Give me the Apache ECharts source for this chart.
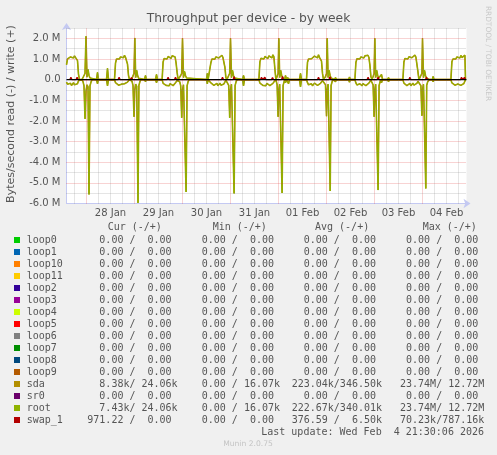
<!DOCTYPE html>
<html><head><meta charset="utf-8">
<script src="https://cdn.jsdelivr.net/npm/echarts@6/dist/echarts.min.js"></script>
<style>html,body{margin:0;padding:0;background:#f0f0f0;}#c{width:497px;height:455px;}</style>
</head><body><div id="c"></div>
<script>
// x values: hours relative to 2026-01-28 00:00 ; y values in millions of bytes/second
const titleText = 'Throughput per device - by week';
const yAxisName = 'Bytes/second read (-) / write (+)';
const dayLabelHours = [12, 36, 60, 84, 108, 132, 156, 180];
const dayLabels = ['28 Jan', '29 Jan', '30 Jan', '31 Jan', '01 Feb', '02 Feb', '03 Feb', '04 Feb'];

const rootWrite = [
  [-10,0.72],[-9.5,1.0],[-9,1.06],[-8.5,0.98],[-8,1.1],[-7.5,1.03],[-7,1.12],[-6.5,1.05],[-6,1.15],[-5.5,1.07],[-5,1.17],[-4.5,0.92],[-4,0.25],[-3.5,0],
  [-2.25,0],[-1.75,0.05],[-1.25,0.2],[-0.75,0.3],[-0.25,2.1],[0.25,0.12],[0.75,0.5],[1.25,0.2],[1.75,0.08],[2.25,0.15],[2.75,0],
  [5,0],[5.5,0.35],[6,0],[10,0],[10.5,0.55],[11,0],
  [14,0],[14.5,0.8],[15,1.0],[15.5,0.96],[16,1.05],[16.5,1.0],[17,1.1],[17.5,1.04],[18,1.13],[18.5,1.06],[19,1.18],[19.5,1.08],[20,1.15],[20.5,0.75],[21,0.2],[21.5,0],
  [22.25,0],[22.75,0.05],[23.25,0.18],[23.75,0.3],[24.15,2.02],[24.6,0.1],[25.1,0.45],[25.6,0.18],[26.1,0.06],[26.6,0.12],[27.1,0],
  [29,0],[29.5,0.2],[30,0],[34.5,0],[35,0.25],[35.5,0],
  [37.8,0],[38.3,0.85],[38.8,1.02],[39.3,0.97],[39.8,1.08],[40.3,1.0],[40.8,1.12],[41.3,1.05],[41.8,1.1],[42.3,1.03],[42.8,1.16],[43.3,1.07],[43.8,1.22],[44.3,1.1],[44.8,0.8],[45.3,0.35],[45.8,0],
  [46.1,0],[46.6,0.06],[47.1,0.2],[47.6,0.3],[48,2.0],[48.5,0.1],[49,0.4],[49.5,0.2],[50,0.08],[50.5,0.1],[51,0],
  [60,0],[60.4,0.3],[60.8,0],
  [61.7,0],[62.2,0.82],[62.7,1.0],[63.2,0.95],[63.7,1.06],[64.2,0.99],[64.7,1.1],[65.2,1.02],[65.7,1.14],[66.2,1.05],[66.7,1.12],[67.2,1.04],[67.7,1.18],[68.2,1.08],[68.7,1.12],[69.2,0.6],[69.7,0.1],[70.2,0],
  [70.6,0.05],[71.1,0.2],[71.6,0.3],[72,2.0],[72.5,0.1],[73,0.45],[73.5,0.2],[74,0.08],[74.5,0.12],[75,0],
  [78,0],[78.5,0.2],[79,0],
  [86.2,0],[86.7,0.86],[87.2,1.03],[87.7,0.96],[88.2,1.07],[88.7,1.0],[89.2,1.12],[89.7,1.04],[90.2,1.1],[90.7,1.02],[91.2,1.15],[91.7,1.06],[92.2,1.12],[92.7,1.05],[93.2,1.2],[93.7,1.1],[94.2,0.5],[94.7,0],
  [95.3,0.15],[95.8,0.3],[96.15,2.0],[96.6,0.1],[97.1,0.45],[97.6,0.2],[98.1,0.1],[98.6,0.15],[99.1,0],[99.5,0.2],[100,0],[100.5,0.1],[101,0.15],[101.5,0],
  [106.5,0],[107,0.3],[107.5,0],
  [110,0],[110.5,0.84],[111,1.0],[111.5,0.97],[112,1.08],[112.5,1.01],[113,1.1],[113.5,1.03],[114,1.14],[114.5,1.06],[115,1.12],[115.5,1.05],[116,1.2],[116.5,1.08],[117,1.13],[117.5,0.9],[118,0.3],[118.5,0],
  [119,0],[119.5,0.15],[120,0.3],[120.35,2.0],[120.8,0.1],[121.3,0.45],[121.8,0.2],[122.3,0.08],[122.8,0.12],[123.3,0],[124,0],[124.5,0.1],[125,0],[131,0],[131.5,0.12],[132,0],
  [134.2,0],[134.7,0.83],[135.2,1.01],[135.7,0.96],[136.2,1.06],[136.7,1.0],[137.2,1.1],[137.7,1.03],[138.2,1.13],[138.7,1.05],[139.2,1.15],[139.7,1.07],[140.2,1.12],[140.7,1.18],[141.2,1.08],[141.7,0.7],[142.2,0.15],[142.7,0],
  [143.3,0.15],[143.8,0.3],[144.15,2.0],[144.6,0.1],[145.1,0.45],[145.6,0.2],[146.1,0.08],[146.6,0.12],[147.1,0],[147.5,0.25],[148,0],[150.5,0],[151,0.1],[151.5,0],
  [158.2,0],[158.7,0.85],[159.2,1.02],[159.7,0.97],[160.2,1.07],[160.7,1.0],[161.2,1.11],[161.7,1.04],[162.2,1.14],[162.7,1.06],[163.2,1.12],[163.7,1.05],[164.2,1.19],[164.7,1.09],[165.2,1.0],[165.7,0.4],[166.2,0],
  [166.7,0.1],[167.2,0.2],[167.7,0.3],[168,2.0],[168.5,0.1],[169,0.45],[169.5,0.2],[170,0.08],[170.5,0.12],[171,0.15],[171.5,0],[173,0],[173.3,0.15],[173.8,0],
  [182.2,0],[182.7,0.86],[183.2,1.0],[183.7,0.96],[184.2,1.06],[184.7,1.0],[185.2,1.1],[185.7,1.02],[186.2,1.13],[186.7,1.05],[187.2,1.17],[187.7,1.07],[188.2,1.12],[188.7,1.08],[189.2,1.18],[189.5,0]
];

const rootRead = [
  [-10,-0.12],[-9.5,-0.22],[-9,-0.17],[-8.5,-0.26],[-8,-0.18],[-7.5,-0.28],[-7,-0.2],[-6.5,-0.15],[-6,-0.25],[-5.5,-0.18],[-5,-0.27],[-4.5,-0.2],[-4,-0.06],[-3.5,0],
  [-2.25,0],[-1.75,-0.1],[-1.25,-0.3],[-0.75,-1.9],[-0.25,-0.55],[0.25,-0.25],[0.75,-0.35],[1.25,-5.56],[1.75,-0.3],[2.25,-0.12],[2.75,0],
  [5,0],[5.5,-0.2],[6,0],[10,0],[10.5,-0.3],[11,0],
  [14,0],[14.5,-0.15],[15,-0.24],[15.5,-0.18],[16,-0.27],[16.5,-0.2],[17,-0.3],[17.5,-0.22],[18,-0.17],[18.5,-0.26],[19,-0.2],[19.5,-0.28],[20,-0.22],[20.5,-0.12],[21,-0.04],[21.5,0],
  [22.25,0],[22.75,-0.08],[23.25,-0.28],[23.75,-1.8],[24.15,-0.5],[24.6,-0.22],[25.1,-0.32],[25.75,-5.97],[26.2,-0.28],[26.7,-0.1],[27.2,0],
  [29,0],[29.5,-0.1],[30,0],[34.5,0],[35,-0.15],[35.5,0],
  [37.8,0],[38.3,-0.18],[38.8,-0.25],[39.3,-0.17],[39.8,-0.28],[40.3,-0.2],[40.8,-0.24],[41.3,-0.3],[41.8,-0.19],[42.3,-0.26],[42.8,-0.2],[43.3,-0.29],[43.8,-0.22],[44.3,-0.18],[44.8,-0.1],[45.3,-0.04],[45.8,0],
  [46.1,0],[46.6,-0.1],[47.1,-0.3],[47.6,-1.85],[48,-0.5],[48.5,-0.25],[49,-0.3],[49.8,-5.44],[50.3,-0.3],[50.8,-0.1],[51.3,0],
  [60,0],[60.4,-0.2],[60.8,0],
  [61.7,0],[62.2,-0.16],[62.7,-0.25],[63.2,-0.19],[63.7,-0.28],[64.2,-0.21],[64.7,-0.26],[65.2,-0.18],[65.7,-0.3],[66.2,-0.22],[66.7,-0.17],[67.2,-0.27],[67.7,-0.2],[68.2,-0.29],[68.7,-0.21],[69.2,-0.12],[69.7,-0.03],[70.2,0],
  [70.6,-0.08],[71.1,-0.28],[71.6,-1.85],[72,-0.5],[72.5,-0.22],[73,-0.3],[73.8,-5.51],[74.3,-0.28],[74.8,-0.1],[75.3,0],
  [78,0],[78.5,-0.3],[79,0],
  [86.2,0],[86.7,-0.17],[87.2,-0.26],[87.7,-0.19],[88.2,-0.28],[88.7,-0.2],[89.2,-0.24],[89.7,-0.3],[90.2,-0.18],[90.7,-0.27],[91.2,-0.21],[91.7,-0.29],[92.2,-0.2],[92.7,-0.25],[93.2,-0.18],[93.7,-0.27],[94.2,-0.1],[94.7,0],
  [95.3,-0.25],[95.8,-1.8],[96.15,-0.5],[96.6,-0.22],[97.1,-0.3],[97.8,-5.49],[98.3,-0.28],[98.8,-0.1],[99.1,0],[99.5,-0.15],[100,0],[100.5,-0.1],[101,-0.2],[101.5,0],
  [106.5,0],[107,-0.35],[107.5,0],
  [110,0],[110.5,-0.15],[111,-0.25],[111.5,-0.18],[112,-0.27],[112.5,-0.2],[113,-0.3],[113.5,-0.22],[114,-0.17],[114.5,-0.26],[115,-0.2],[115.5,-0.28],[116,-0.21],[116.5,-0.25],[117,-0.18],[117.5,-0.15],[118,-0.05],[118.5,0],
  [119,0],[119.5,-0.25],[120,-1.77],[120.35,-0.5],[120.8,-0.22],[121.3,-0.3],[121.85,-5.39],[122.3,-0.28],[122.8,-0.1],[123.3,0],[124,0],[124.5,-0.1],[125,0],[131,0],[131.5,-0.12],[132,0],
  [134.2,0],[134.7,-0.16],[135.2,-0.26],[135.7,-0.18],[136.2,-0.28],[136.7,-0.2],[137.2,-0.25],[137.7,-0.3],[138.2,-0.19],[138.7,-0.27],[139.2,-0.21],[139.7,-0.29],[140.2,-0.2],[140.7,-0.24],[141.2,-0.17],[141.7,-0.12],[142.2,-0.03],[142.7,0],
  [143.3,-0.25],[143.8,-1.8],[144.15,-0.5],[144.6,-0.22],[145.1,-0.3],[145.8,-5.35],[146.3,-0.28],[146.8,-0.1],[147.1,0],[147.5,-0.15],[148,0],[150.5,0],[151,-0.1],[151.5,0],
  [158.2,0],[158.7,-0.17],[159.2,-0.25],[159.7,-0.19],[160.2,-0.29],[160.7,-0.21],[161.2,-0.26],[161.7,-0.18],[162.2,-0.3],[162.7,-0.22],[163.2,-0.17],[163.7,-0.27],[164.2,-0.2],[164.7,-0.28],[165.2,-0.18],[165.7,-0.08],[166.2,0],
  [166.7,-0.1],[167.2,-0.3],[167.7,-1.75],[168,-0.5],[168.5,-0.22],[169,-0.3],[169.65,-5.27],[170.1,-0.28],[170.6,-0.1],[171,-0.1],[171.5,0],[173,0],[173.3,-0.1],[173.8,0],
  [182.2,0],[182.7,-0.16],[183.2,-0.25],[183.7,-0.18],[184.2,-0.27],[184.7,-0.2],[185.2,-0.29],[185.7,-0.21],[186.2,-0.25],[186.7,-0.17],[187.2,-0.28],[187.7,-0.2],[188.2,-0.26],[188.7,-0.19],[189.2,-0.24],[189.5,0]
];

// sda is practically identical to root (root is drawn on top of it)
const sdaWrite = rootWrite;
const sdaRead = rootRead;

const swapWrite = [
  [-8.3,0],[-7.8,0.12],[-7.3,0],[-5.2,0],[-4.7,0.12],[-4.2,0],
  [15.8,0],[16.3,0.11],[16.8,0],[22,0],[22.5,0.1],[23,0],
  [40.3,0],[40.8,0.11],[41.3,0],[44,0],[44.5,0.12],[45,0],
  [67.5,0],[68,0.11],[68.5,0],[73.3,0],[73.8,0.14],[74.3,0],
  [87,0],[87.5,0.11],[88,0],[88.7,0],[89.2,0.11],[89.7,0],[92.5,0],[93,0.1],[93.5,0],[97.5,0],[98,0.16],[98.5,0],
  [115.5,0],[116,0.11],[116.5,0],[121.2,0],[121.7,0.14],[122.2,0],
  [140.3,0],[140.8,0.11],[141.3,0],[145.3,0],[145.8,0.12],[146.3,0],
  [161.2,0],[161.7,0.11],[162.2,0],[169.5,0],[170,0.12],[170.5,0],
  [187,0],[187.5,0.11],[188,0],[188.5,0],[189,0.11],[189.5,0]
];

const legendNames = ['loop0','loop1','loop10','loop11','loop2','loop3','loop4','loop5','loop6','loop7','loop8','loop9','sda','sr0','root','swap_1'];
const legendColors = ['#00CC00','#0066B3','#FF8000','#FFCC00','#330099','#990099','#CCFF00','#FF0000','#808080','#008F00','#00487D','#B35A00','#B38F00','#6B006B','#8FB300','#B30000'];
const Z = '  0.00 /  0.00 ';
const curText = [Z,Z,Z,Z,Z,Z,Z,Z,Z,Z,Z,Z,'  8.38k/ 24.06k',Z,'  7.43k/ 24.06k','971.22 /  0.00 '];
const minText = [Z,Z,Z,Z,Z,Z,Z,Z,Z,Z,Z,Z,'  0.00 / 16.07k',Z,'  0.00 / 16.07k',Z];
const avgText = [Z,Z,Z,Z,Z,Z,Z,Z,Z,Z,Z,Z,'223.04k/346.50k',Z,'222.67k/340.01k','376.59 /  6.50k'];
const maxText = [Z,Z,Z,Z,Z,Z,Z,Z,Z,Z,Z,Z,' 23.74M/ 12.72M',Z,' 23.74M/ 12.72M',' 70.23k/787.16k'];
const headers = ['Cur (-/+)','Min (-/+)','Avg (-/+)','Max (-/+)'];
const lastUpdate = 'Last update: Wed Feb  4 21:30:06 2026';
const footer = 'Munin 2.0.75';
const sideText = 'RRDTOOL / TOBI OETIKER';

// ---------- rendering ----------
const chart = echarts.init(document.getElementById('c'), null, {renderer: 'canvas', width: 497, height: 455});
const RED = 'rgba(222,57,57,0.45)';
const GREY = 'rgba(128,128,128,0.42)';
const AX = '#c4c9f2';
const TXT = '#555';
const MONO = '10px "DejaVu Sans Mono"';

const gridLines = [];
for (let h = -6; h <= 186; h += 6) {
  gridLines.push({xAxis: h, lineStyle: {color: h % 24 === 0 ? RED : GREY, type: [1, 1], width: 1}});
}
for (let k = -11; k <= 5; k++) {
  const v = k / 2;
  if (v === 0) continue;
  gridLines.push({yAxis: v, lineStyle: {color: (k % 2 === 0) ? RED : GREY, type: [1, 1], width: 1}});
}

function txt(x, y, text, font, fill, align, valign, rotation) {
  return {type: 'text', x: x, y: y, rotation: rotation || 0, silent: true,
    style: {text: text, font: font, fill: fill, textAlign: align, align: align,
      textVerticalAlign: valign, verticalAlign: valign}};
}

const graphics = [];
graphics.push(txt(248.5, 19, titleText, '12.3px "DejaVu Sans"', TXT, 'center', 'middle'));
graphics.push(txt(11, 114, yAxisName, '11px "DejaVu Sans"', TXT, 'center', 'middle', Math.PI / 2));
graphics.push(txt(488, 53.5, sideText, '7.4px "DejaVu Sans"', '#c8c8c8', 'center', 'middle', -Math.PI / 2));
const headerX = [107.7, 212.7, 315, 422.7];
headers.forEach((h, i) => graphics.push(txt(headerX[i], 227, h, MONO, TXT, 'left', 'middle')));
const cellX = [87.3, 189.7, 291.7, 394];
legendNames.forEach((n, i) => {
  const y = 240 + 12 * i;
  graphics.push({type: 'rect', silent: true, shape: {x: 14, y: y - 3, width: 6, height: 6}, style: {fill: legendColors[i]}});
  graphics.push(txt(26.7, y, n, MONO, TXT, 'left', 'middle'));
  [curText, minText, avgText, maxText].forEach((arr, c) => {
    graphics.push(txt(cellX[c], y, arr[i], MONO, TXT, 'left', 'middle'));
  });
});
graphics.push(txt(484, 432, lastUpdate, MONO, TXT, 'right', 'middle'));
graphics.push(txt(248, 444, footer, '7.6px "DejaVu Sans"', '#c4c4c4', 'center', 'middle'));

function yFmt(v) {
  if (Math.abs(v - Math.round(v)) > 1e-9) return '';
  if (Math.abs(v) < 1e-9) return '0.0';
  return v.toFixed(1) + ' M';
}

const option = {
  animation: false,
  backgroundColor: '#f0f0f0',
  grid: {left: 66.5, top: 28, width: 400, height: 175.5, show: true, backgroundColor: '#ffffff', borderWidth: 0, containLabel: false},
  xAxis: {
    type: 'value', min: -10, max: 190,
    axisLine: {show: true, onZero: false, lineStyle: {color: AX, width: 1}, symbol: ['none', 'arrow'], symbolSize: [7, 7], symbolOffset: [0, 4]},
    axisTick: {show: false},
    splitLine: {show: false},
    axisLabel: {
      customValues: dayLabelHours,
      formatter: function (v) { const i = dayLabelHours.indexOf(Number(v)); return i >= 0 ? dayLabels[i] : ''; },
      color: TXT, fontSize: 10, fontFamily: 'DejaVu Sans', margin: 5
    }
  },
  yAxis: {
    type: 'value', min: -6, max: 2.5, interval: 1,
    axisLine: {show: true, onZero: false, lineStyle: {color: AX, width: 1}, symbol: ['none', 'arrow'], symbolSize: [7, 7], symbolOffset: [0, 5]},
    axisTick: {show: false},
    splitLine: {show: false},
    axisLabel: {formatter: yFmt, color: TXT, fontSize: 10, fontFamily: 'DejaVu Sans', margin: 6}
  },
  graphic: graphics,
  series: [
    {type: 'line', name: 'grid', data: [], silent: true, z: 1,
      markLine: {silent: true, symbol: ['none', 'none'], label: {show: false}, emphasis: {disabled: true}, data: gridLines}},
    {type: 'line', name: 'sda write', data: sdaWrite, symbol: 'none', showSymbol: false, z: 2, lineStyle: {color: '#B38F00', width: 1.6}},
    {type: 'line', name: 'sda read', data: sdaRead, symbol: 'none', showSymbol: false, z: 2, lineStyle: {color: '#B38F00', width: 1.6}},
    {type: 'line', name: 'root write', data: rootWrite, symbol: 'none', showSymbol: false, z: 3, lineStyle: {color: '#8FB300', width: 1}},
    {type: 'line', name: 'root read', data: rootRead, symbol: 'none', showSymbol: false, z: 3, lineStyle: {color: '#8FB300', width: 1}},
    {type: 'line', name: 'swap_1', data: swapWrite, symbol: 'none', showSymbol: false, z: 4, lineStyle: {color: '#B30000', width: 1.3}},
    {type: 'line', name: 'zero', data: [[-10, 0], [190, 0]], symbol: 'none', showSymbol: false, z: 5, silent: true, lineStyle: {color: '#000000', width: 1.2}}
  ]
};
chart.setOption(option);
</script></body></html>
